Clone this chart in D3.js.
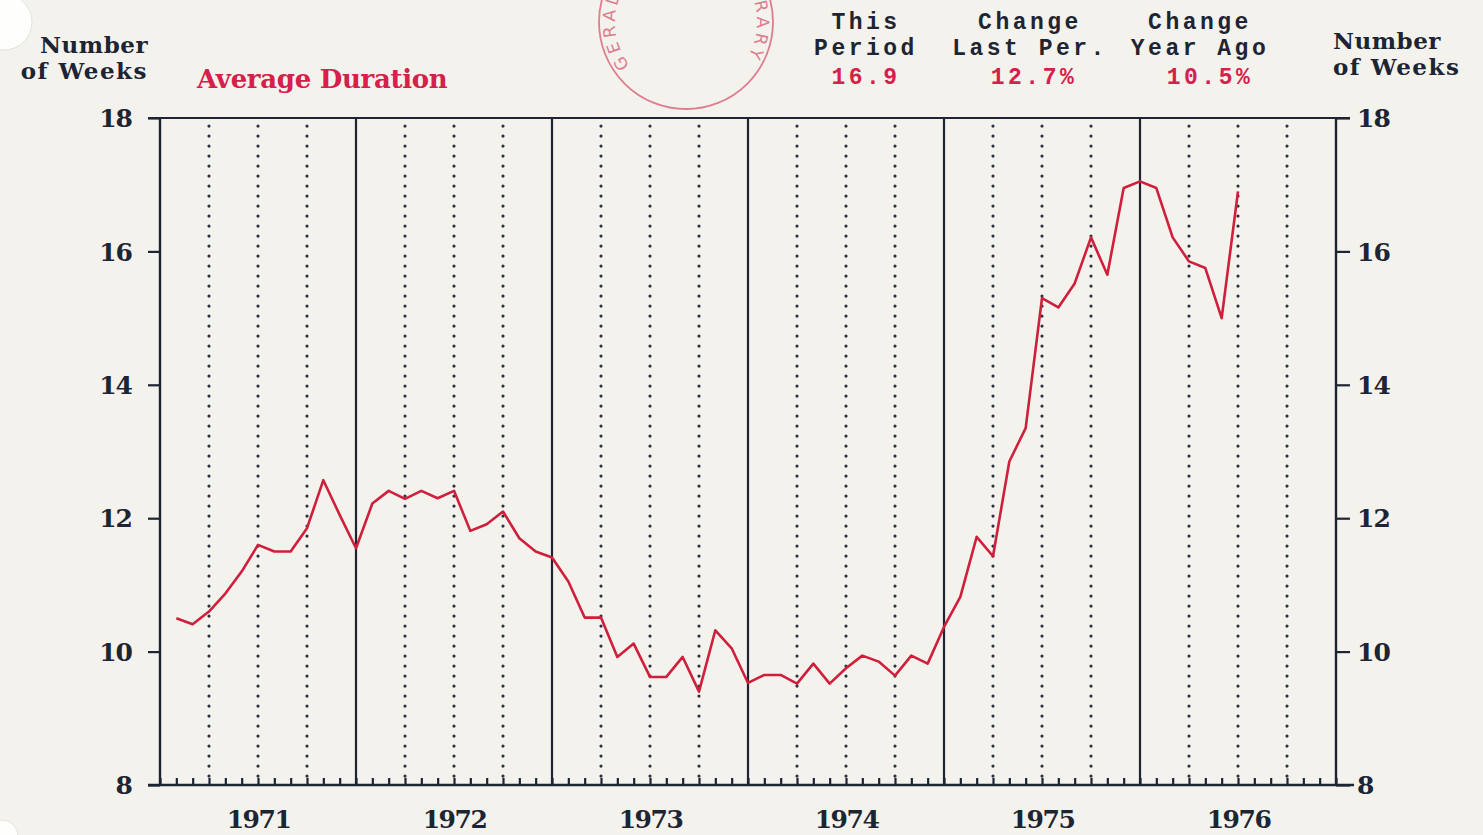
<!DOCTYPE html>
<html><head><meta charset="utf-8">
<script src="https://cdn.jsdelivr.net/npm/d3@7/dist/d3.min.js"></script>
<style>
html,body{margin:0;padding:0;background:#f4f2ec;}
svg{display:block;}
</style></head>
<body>
<svg id="chart" width="1483" height="835"></svg>
<script>
// ---- data (monthly, Jan 1971 – Jun 1976) ----
const years = [1971, 1972, 1973, 1974, 1975, 1976];
const avgDuration = [
  10.50, 10.41, 10.60, 10.87, 11.20, 11.60, 11.50, 11.50, 11.85, 12.57, 12.05, 11.55,
  12.22, 12.41, 12.29, 12.41, 12.30, 12.41, 11.81, 11.91, 12.10, 11.70, 11.50, 11.41,
  11.05, 10.51, 10.51, 9.92, 10.12, 9.62, 9.62, 9.92, 9.40, 10.32, 10.05, 9.53,
  9.65, 9.65, 9.52, 9.82, 9.52, 9.75, 9.94, 9.85, 9.64, 9.94, 9.82, 10.37,
  10.82, 11.72, 11.43, 12.85, 13.35, 15.30, 15.16, 15.52, 16.21, 15.65, 16.95, 17.05,
  16.95, 16.21, 15.85, 15.75, 15.00, 16.90
];
const yTicks = [8, 10, 12, 14, 16, 18];
const headerTitles = [["This", "Period"], ["Change", "Last Per."], ["Change", "Year Ago"]];
const headerValues = ["16.9", "12.7%", "10.5%"];
const seriesName = "Average Duration";
const axisTitle = ["Number", "of Weeks"];

// ---- layout ----
const svg = d3.select("#chart");
const L = 160, R = 1336, T = 118, B = 785;
const ink = "#1d2433", red = "#cf1f3c", redText = "#d4204a";

const x = d3.scaleLinear().domain([1971, 1977]).range([L, R]);
const y = d3.scaleLinear().domain([8, 18]).range([B, T]);

// hole punches
svg.append("circle").attr("cx", 4).attr("cy", 22).attr("r", 28).attr("fill", "#fefefc").attr("stroke", "#e4e2dc");
svg.append("circle").attr("cx", 2).attr("cy", 836).attr("r", 16).attr("fill", "#fefefc").attr("stroke", "#e4e2dc");

// library stamp
const stamp = svg.append("g").attr("transform", "translate(686,22)").attr("opacity", 0.8);
stamp.append("circle").attr("r", 87).attr("fill", "none").attr("stroke", "#d9607a").attr("stroke-width", 1.8);
const rT = 71, a0 = -128 * Math.PI / 180, a1 = 124 * Math.PI / 180;
const pt = a => [rT * Math.sin(a), -rT * Math.cos(a)];
svg.append("defs").append("path").attr("id", "stampArc")
  .attr("d", `M${pt(a0)[0]},${pt(a0)[1]} A${rT},${rT} 0 1 1 ${pt(a1)[0]},${pt(a1)[1]}`);
stamp.append("text").attr("font-family", "DejaVu Sans").attr("font-size", 17).attr("fill", "#d9607a")
  .append("textPath").attr("href", "#stampArc").attr("textLength", 305).attr("lengthAdjust", "spacing")
  .text("GERALD R. FORD LIBRARY");

// months ticks (bottom, pointing up)
const monthTicks = d3.range(1971, 1977, 1 / 12).concat([1977]);
svg.append("g").attr("transform", `translate(0,${B})`)
  .call(d3.axisTop(x).tickValues(monthTicks).tickSize(7).tickFormat(""))
  .call(g => g.select(".domain").remove())
  .call(g => g.selectAll("line").attr("stroke", ink).attr("stroke-width", 2.2));

// quarter dotted lines
const quarters = [];
years.forEach(yr => [0.25, 0.5, 0.75].forEach(q => quarters.push(yr + q)));
svg.append("g").selectAll("line").data(quarters).join("line")
  .attr("x1", d => x(d)).attr("x2", d => x(d)).attr("y1", T + 8).attr("y2", B)
  .attr("stroke", "#2b3142").attr("stroke-width", 3.2).attr("stroke-linecap", "round")
  .attr("stroke-dasharray", "0.1 9.9");

// year boundary solid lines
svg.append("g").selectAll("line").data(years.slice(1)).join("line")
  .attr("x1", d => x(d)).attr("x2", d => x(d)).attr("y1", T).attr("y2", B)
  .attr("stroke", ink).attr("stroke-width", 2.2);

// frame
svg.append("line").attr("x1", L - 12).attr("x2", R + 14).attr("y1", T).attr("y2", T).attr("stroke", ink).attr("stroke-width", 2.2);
svg.append("line").attr("x1", L - 12).attr("x2", R + 18).attr("y1", B).attr("y2", B).attr("stroke", ink).attr("stroke-width", 2.4);
svg.append("line").attr("x1", L).attr("x2", L).attr("y1", T).attr("y2", B).attr("stroke", ink).attr("stroke-width", 2.4);
svg.append("line").attr("x1", R).attr("x2", R).attr("y1", T).attr("y2", B).attr("stroke", ink).attr("stroke-width", 2.4);

// y axes
const tickFont = "'DejaVu Serif', serif";
svg.append("g").attr("transform", `translate(${L},0)`)
  .call(d3.axisLeft(y).tickValues(yTicks).tickSize(12).tickPadding(16))
  .call(g => g.select(".domain").remove())
  .call(g => g.selectAll("line").attr("stroke", ink).attr("stroke-width", 2.2))
  .call(g => g.selectAll("text").attr("font-family", tickFont).attr("font-weight", "bold")
    .attr("font-size", 25).attr("fill", ink).attr("letter-spacing", -1).attr("dy", "0.35em"));
svg.append("g").attr("transform", `translate(${R},0)`)
  .call(d3.axisRight(y).tickValues(yTicks).tickSize(14).tickPadding(7))
  .call(g => g.select(".domain").remove())
  .call(g => g.selectAll("line").attr("stroke", ink).attr("stroke-width", 2.2))
  .call(g => g.selectAll("text").attr("font-family", tickFont).attr("font-weight", "bold")
    .attr("font-size", 25).attr("fill", ink).attr("letter-spacing", -1).attr("dy", "0.35em"));

// x year labels
svg.append("g").attr("transform", `translate(0,${B})`)
  .call(d3.axisBottom(x).tickValues(years.map(d => d + 0.5)).tickSize(0).tickPadding(25)
    .tickFormat(d => String(Math.floor(d))))
  .call(g => g.select(".domain").remove())
  .call(g => g.selectAll("text").attr("font-family", tickFont).attr("font-weight", "bold")
    .attr("font-size", 25).attr("fill", ink).attr("letter-spacing", -1.5));

// series line
const pts = avgDuration.map((v, i) => [1971 + (i + 1) / 12, v]);
svg.append("path").datum(pts)
  .attr("d", d3.line().x(d => x(d[0])).y(d => y(d[1])))
  .attr("fill", "none").attr("stroke", red).attr("stroke-width", 2.6).attr("stroke-linejoin", "round");

// titles
const titleFont = "'DejaVu Serif', serif";
function titleLines(xp, ys, anchor) {
  axisTitle.forEach((t, i) => {
    svg.append("text").attr("x", xp).attr("y", ys[i]).attr("font-family", titleFont).attr("font-weight", "bold")
      .attr("font-size", 23).attr("fill", ink).attr("text-anchor", anchor)
      .attr("letter-spacing", i === 0 ? 0.5 : 1.5).text(t);
  });
}
titleLines(148, [53, 79], "end");
titleLines(1333, [49, 75], "start");

svg.append("text").attr("x", 197).attr("y", 88).attr("font-family", titleFont).attr("font-weight", "bold")
  .attr("font-size", 26).attr("fill", redText).attr("letter-spacing", -0.3).text(seriesName);

// header block
const monoFont = "'Liberation Mono', 'DejaVu Sans Mono', monospace";
const hx = [866, 1030, 1200], vx = [866, 1034, 1210];
headerTitles.forEach((t, i) => {
  t.forEach((s, j) => {
    svg.append("text").attr("x", hx[i]).attr("y", 29 + j * 26).attr("font-family", monoFont).attr("font-weight", "bold")
      .attr("font-size", 23).attr("fill", ink).attr("text-anchor", "middle").attr("letter-spacing", 3.5).text(s);
  });
  svg.append("text").attr("x", vx[i]).attr("y", 84).attr("font-family", monoFont).attr("font-weight", "bold")
    .attr("font-size", 23).attr("fill", redText).attr("text-anchor", "middle").attr("letter-spacing", 3.5).text(headerValues[i]);
});
</script>
</body></html>
